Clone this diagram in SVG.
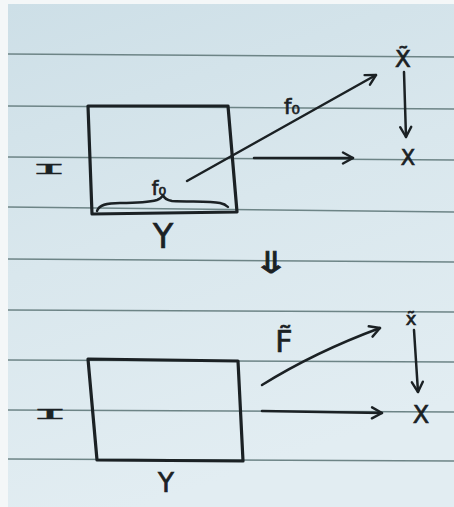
<svg xmlns="http://www.w3.org/2000/svg" width="454" height="507" viewBox="0 0 454 507">
<defs>
<linearGradient id="paper" x1="0" y1="0" x2="0.3" y2="1">
<stop offset="0" stop-color="#cddfe7"/>
<stop offset="0.5" stop-color="#d9e7ed"/>
<stop offset="1" stop-color="#e2edf2"/>
</linearGradient>
<marker id="v" viewBox="0 0 14 14" refX="12" refY="7" markerWidth="14" markerHeight="14" markerUnits="userSpaceOnUse" orient="auto">
<path d="M2,1.5 L12,7 L2,12.5" fill="none" stroke="#1b2124" stroke-width="2.4" stroke-linecap="round" stroke-linejoin="round"/>
</marker>
<style>
.rule{stroke:#6d8486;stroke-width:1.6;fill:none}
.ink{stroke:#1b2124;fill:none;stroke-linecap:round;stroke-linejoin:round}
.box{stroke-width:3.2}
.arr{stroke-width:2.5;marker-end:url(#v)}
.t{font-family:"DejaVu Sans",sans-serif;fill:#1b2124;stroke:#1b2124;stroke-width:0.7;text-anchor:middle}
.s{font-family:"Liberation Mono",monospace;fill:#1b2124;stroke:#1b2124;stroke-width:0.3;text-anchor:middle}
</style>
</defs>
<rect width="454" height="507" fill="#f4f7f8"/>
<rect x="8" y="4" width="446" height="503" fill="url(#paper)"/>
<g id="rules">
<line class="rule" x1="8" y1="54" x2="454" y2="57"/>
<line class="rule" x1="8" y1="106" x2="454" y2="109"/>
<line class="rule" x1="8" y1="157" x2="454" y2="160"/>
<line class="rule" x1="8" y1="207" x2="454" y2="212"/>
<line class="rule" x1="8" y1="259" x2="454" y2="262"/>
<line class="rule" x1="8" y1="310" x2="454" y2="312"/>
<line class="rule" x1="8" y1="360" x2="454" y2="362"/>
<line class="rule" x1="8" y1="410" x2="454" y2="412"/>
<line class="rule" x1="8" y1="459" x2="454" y2="461"/>
</g>

<g id="top-box">
<polygon class="ink box" points="88,106 228,106 237,212 92,214"/>
<path class="ink" stroke-width="2.4" d="M97,211 C99,205 106,203 120,203 C140,203 150,202 157,200 C160,199 162,197 163,195 C164,198 166,200 172,201 C190,202 210,201 220,203 C225,204 227,206 228,207"/>
<text class="t" x="159" y="195" font-size="19">f₀</text>
</g>
<g id="top-I"><text class="s" transform="translate(49,174) scale(4,1)" x="0" y="0" font-size="15">I</text></g>
<g id="top-Y"><text class="t" x="163" y="248" font-size="33">Y</text></g>
<g id="top-Xtilde"><text class="t" x="403" y="67" font-size="23">X̃</text></g>
<g id="top-X"><text class="t" x="408" y="165" font-size="21">X</text></g>

<g id="implies"><text class="t" transform="translate(271,273) scale(1.5,1)" x="0" y="0" font-size="30">⇓</text></g>

<g id="bottom-box">
<polygon class="ink box" points="88,359 238,361 243,461 97,460"/>
</g>
<g id="bottom-I"><text class="s" transform="translate(50,419) scale(4,1)" x="0" y="0" font-size="15">I</text></g>
<g id="bottom-Y"><text class="t" x="166" y="492" font-size="26">Y</text></g>
<g id="bottom-xtilde"><text class="t" x="411" y="325" font-size="18">x̃</text></g>
<g id="bottom-X"><text class="t" x="421" y="423" font-size="24">X</text></g>

<g id="connectors">
<line class="ink arr" x1="187" y1="181" x2="376" y2="75"/>
<text class="t" x="292" y="114" font-size="21">f₀</text>
<line class="ink arr" x1="254" y1="158" x2="353" y2="158"/>
<line class="ink arr" x1="404" y1="72" x2="406" y2="137"/>
<path class="ink arr" d="M262,385 Q315,352 380,328"/>
<text class="t" x="284" y="352" font-size="30">F̃</text>
<line class="ink arr" x1="262" y1="411" x2="382" y2="413"/>
<line class="ink arr" x1="414" y1="330" x2="418" y2="392"/>
</g>
</svg>
